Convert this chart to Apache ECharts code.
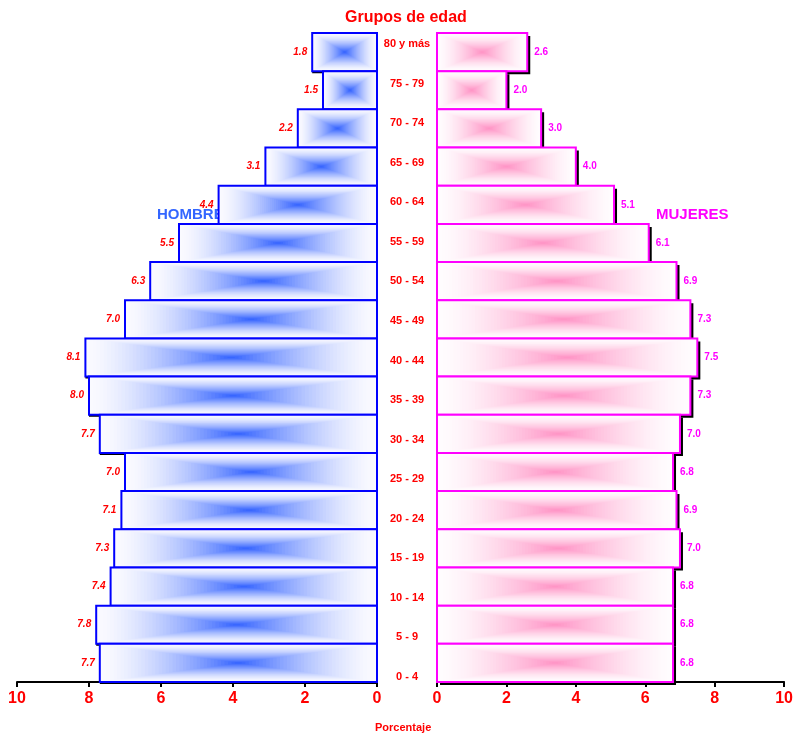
<!DOCTYPE html>
<html><head><meta charset="utf-8">
<script src="https://cdn.jsdelivr.net/npm/echarts@6/dist/echarts.min.js"></script>
<style>html,body{margin:0;padding:0;background:#fff}#c{width:796px;height:734px}</style>
</head><body><div id="c"></div>
<script>
// Top to bottom
const categories = ['80 y más','75 - 79','70 - 74','65 - 69','60 - 64','55 - 59','50 - 54','45 - 49','40 - 44','35 - 39','30 - 34','25 - 29','20 - 24','15 - 19','10 - 14','5 - 9','0 - 4'];
const hombres = [1.8,1.5,2.2,3.1,4.4,5.5,6.3,7.0,8.1,8.0,7.7,7.0,7.1,7.3,7.4,7.8,7.7];
const mujeres = [2.6,2.0,3.0,4.0,5.1,6.1,6.9,7.3,7.5,7.3,7.0,6.8,6.9,7.0,6.8,6.8,6.8];
const xTicks = [0,2,4,6,8,10];

const FONT = '"Liberation Sans", Arial, sans-serif';

function lerp(a,b,t){return Math.round(a+(b-a)*t);}
function mix(c1,c2,t){return 'rgb('+lerp(c1[0],c2[0],t)+','+lerp(c1[1],c2[1],t)+','+lerp(c1[2],c2[2],t)+')';}

function makeRender(side){
  const edge = side==='L' ? [250,250,255] : [255,252,254];
  const center = side==='L' ? [48,96,255] : [255,145,196];
  const border = side==='L' ? '#0000FF' : '#FF00FF';
  const sx = side==='L' ? 0 : 3, sy = side==='L' ? 2 : 3;
  return function(api){
    const cat = api.value(1), val = api.value(0);
    const p0 = api.coord([0, cat]);
    const p1 = api.coord([val, cat]);
    const h = api.size([0,1])[1];
    const x0 = Math.min(p0[0],p1[0]);
    const w = Math.abs(p1[0]-p0[0]);
    const y0 = p0[1]-h/2;
    const cx = x0 + w/2, cy = p0[1];
    const children = [];
    children.push({type:'rect', shape:{x:x0+sx,y:y0+sy,width:w,height:h}, style:{fill:'#000'}});
    children.push({type:'rect', shape:{x:x0,y:y0,width:w,height:h}, style:{fill:mix(edge,edge,0)}});
    const N = 40;
    for(let i=1;i<N;i++){
      const t = i/N;
      const ww = w*(1-t), hh = h*(1-t);
      children.push({type:'rect', shape:{x:cx-ww/2,y:cy-hh/2,width:ww,height:hh}, style:{fill:mix(edge,center,Math.pow(t,1.5))}});
    }
    children.push({type:'rect', shape:{x:x0,y:y0,width:w,height:h}, style:{fill:null, stroke:border, lineWidth:2}});
    const lbl = val.toFixed(1);
    if(side==='L'){
      children.push({type:'text', style:{x:x0-5, y:cy, text:lbl, align:'right', verticalAlign:'middle', fill:'#FF0000', font:'italic bold 10px '+FONT}});
    } else {
      children.push({type:'text', style:{x:x0+w+7, y:cy, text:lbl, align:'left', verticalAlign:'middle', fill:'#FF00FF', font:'bold 10px '+FONT}});
    }
    return {type:'group', children:children};
  };
}
const renderL = makeRender('L'), renderR = makeRender('R');

const axisCommon = {
  type:'value', min:0, max:10, interval:2,
  axisLine:{show:true, lineStyle:{color:'#000', width:2}},
  axisTick:{show:true, length:5, lineStyle:{color:'#000', width:2}},
  splitLine:{show:false},
  axisLabel:{color:'#FF0000', fontWeight:'bold', fontSize:16, fontFamily:FONT, margin:9,
    formatter:function(v){return xTicks.indexOf(v)>=0 ? String(v) : '';}}
};

const chart = echarts.init(document.getElementById('c'));
chart.setOption({
  animation:false,
  backgroundColor:'#fff',
  grid:[
    {left:17, top:33, width:360, height:649},
    {left:437, top:33, width:351, height:649},
    {left:407, top:24.2, width:1, height:672.6}
  ],
  xAxis:[
    Object.assign({gridIndex:0, inverse:true}, axisCommon),
    Object.assign({gridIndex:1}, axisCommon),
    {type:'value', gridIndex:2, show:false}
  ],
  yAxis:[
    {type:'category', gridIndex:0, data:categories, inverse:true, show:false},
    {type:'category', gridIndex:1, data:categories, inverse:true, show:false},
    {type:'category', gridIndex:2, data:categories, inverse:true, position:'left',
     axisLine:{show:false}, axisTick:{show:false},
     axisLabel:{show:true, align:'center', margin:0, color:'#FF0000', fontWeight:'bold', fontSize:11, fontFamily:FONT}}
  ],
  graphic:[
    {type:'text', z:0, left:345, top:10, style:{text:'Grupos de edad', fill:'#FF0000', font:'bold 16px '+FONT}},
    {type:'text', z:0, left:157, top:207, style:{text:'HOMBRES', fill:'#3366FF', font:'bold 15px '+FONT}},
    {type:'text', z:0, left:656, top:207, style:{text:'MUJERES', fill:'#FF00FF', font:'bold 15px '+FONT}},
    {type:'text', z:0, left:375, top:722, style:{text:'Porcentaje', fill:'#FF0000', font:'bold 11px '+FONT}}
  ],
  series:[
    {type:'custom', xAxisIndex:0, yAxisIndex:0, z:5,
     data: hombres.map(function(v,i){return [v, i];}),
     encode:{x:0, y:1},
     renderItem:function(params, api){ return renderL(api); }},
    {type:'custom', xAxisIndex:1, yAxisIndex:1, z:5,
     data: mujeres.map(function(v,i){return [v, i];}),
     encode:{x:0, y:1},
     renderItem:function(params, api){ return renderR(api); }}
  ]
});
</script></body></html>
